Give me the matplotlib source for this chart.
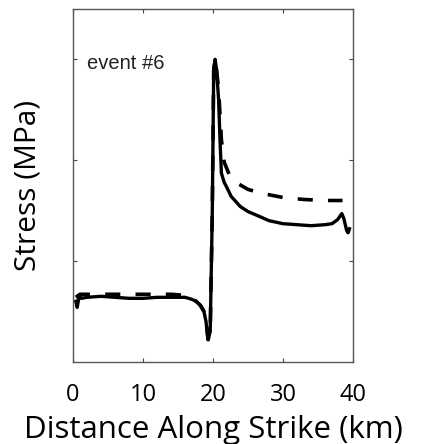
import numpy as np
import matplotlib.pyplot as plt

# distance along strike (km) and stress (arbitrary MPa units)
solid_x = [0.4, 0.6, 0.9, 1.2, 2, 4, 6, 8, 10, 12, 14, 16, 17, 17.6, 18.2, 18.7,
           19.0, 19.3, 19.6, 19.9, 20.1, 20.3, 20.5, 20.8, 21.0, 21.2, 21.6, 21.9,
           22.6, 23.9, 25.0, 26.7, 28, 30, 32, 34, 36, 37, 37.8, 38.4, 38.7, 38.9,
           39.1, 39.3, 39.5]
solid_y = [0.60, 0.54, 0.66, 0.63, 0.64, 0.65, 0.64, 0.63, 0.63, 0.64, 0.64, 0.64,
           0.62, 0.60, 0.56, 0.50, 0.40, 0.22, 0.30, 1.50, 2.90, 3.00, 2.90, 2.60,
           2.20, 1.87, 1.78, 1.74, 1.64, 1.54, 1.49, 1.44, 1.40, 1.37, 1.36, 1.35,
           1.36, 1.37, 1.41, 1.47, 1.42, 1.36, 1.30, 1.28, 1.32]

dash_x = [0.4, 1, 2, 4, 6, 8, 10, 12, 14, 16, 17, 17.6, 18.2, 18.7, 19.0, 19.3,
          19.6, 19.9, 20.1, 20.3, 20.5, 20.8, 21.2, 21.6, 22.3, 23.0, 25.0, 27.0,
          30.0, 33.0, 36.0, 38.5]
dash_y = [0.64, 0.67, 0.67, 0.67, 0.67, 0.67, 0.67, 0.67, 0.67, 0.66, 0.63, 0.60,
          0.56, 0.50, 0.40, 0.22, 0.30, 1.50, 2.90, 3.00, 2.90, 2.70, 2.20, 1.98,
          1.86, 1.79, 1.71, 1.67, 1.63, 1.61, 1.60, 1.60]

xticks = [0, 10, 20, 30, 40]
yticks = [1, 2, 3]

fig = plt.figure(figsize=(4.22, 4.44), dpi=100)
ax = fig.add_axes([0.173, 0.185, 0.6635, 0.795])

ax.plot(dash_x, dash_y, color='black', lw=2.6, dashes=(4.2, 4.2), solid_capstyle='butt')
ax.plot(solid_x, solid_y, color='black', lw=2.4)

ax.set_xlim(0, 40)
ax.set_ylim(0, 3.5)
ax.set_xticks(xticks)
ax.set_yticks(yticks)
ax.set_yticklabels([])
ax.tick_params(direction='in', length=3, width=0.8, top=True, right=True,
               color='#444444', pad=15)
for lab in ax.get_xticklabels():
    lab.set_fontfamily('Open Sans')
    lab.set_fontsize(17)
for s in ax.spines.values():
    s.set_color('#555555')
    s.set_linewidth(1.0)

ax.text(0.05, 0.845, 'event #6', transform=ax.transAxes, fontsize=14.5,
        family='Liberation Sans', color='#222222', va='center')
ax.set_xlabel('Distance Along Strike (km)', family='Open Sans', fontsize=22.5, labelpad=6)
ax.set_ylabel('Stress (MPa)', family='Open Sans', fontsize=21.5, labelpad=7)

fig.savefig('out.png', dpi=100)
